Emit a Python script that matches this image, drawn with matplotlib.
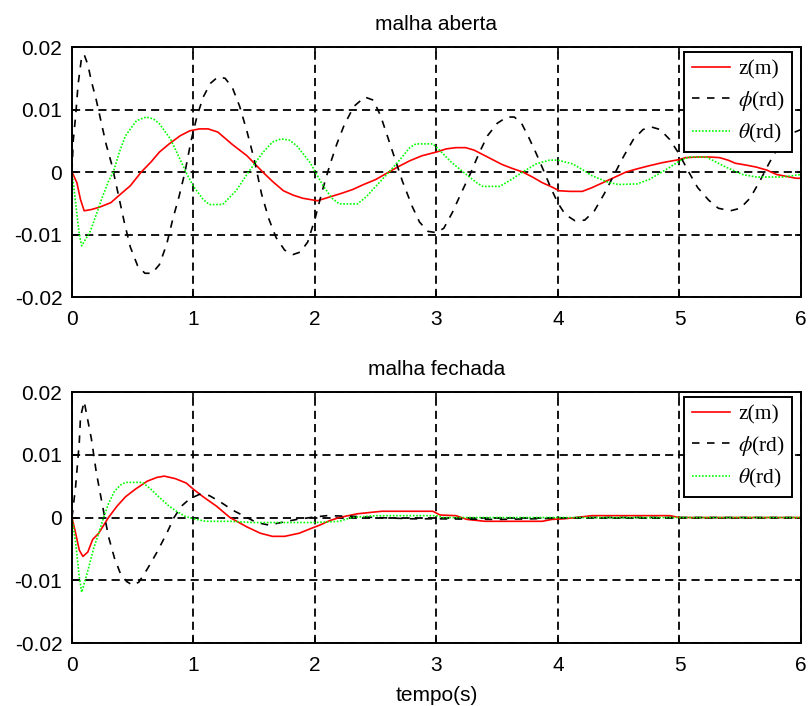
import matplotlib
matplotlib.use('Agg')
import matplotlib.pyplot as plt

# malha aberta
t_z_open = [0, 0.04, 0.07, 0.1, 0.16, 0.23, 0.32, 0.39, 0.48, 0.57, 0.65, 0.72, 0.8, 0.89, 0.97, 1.05, 1.12,
            1.2, 1.32, 1.44, 1.5, 1.57, 1.65, 1.74, 1.82, 1.9, 2.02, 2.12, 2.22, 2.31, 2.4, 2.5, 2.59, 2.68,
            2.78, 2.88, 3.0, 3.08, 3.16, 3.24, 3.31, 3.38, 3.46, 3.54, 3.62, 3.71, 3.79, 3.87, 3.95, 4.01,
            4.1, 4.2, 4.28, 4.37, 4.46, 4.56, 4.65, 4.75, 4.86, 5.0, 5.05, 5.15, 5.25, 5.33, 5.4, 5.46,
            5.55, 5.63, 5.72, 5.8, 5.88, 5.96, 6.0]
z_open = [0, -0.0017, -0.0044, -0.0062, -0.006, -0.0056, -0.0049, -0.0037, -0.0022, 0.0, 0.0016, 0.0032,
          0.0045, 0.0058, 0.0066, 0.0069, 0.0069, 0.0064, 0.0044, 0.0026, 0.0014, 0.0, -0.0015, -0.003,
          -0.0037, -0.0042, -0.0046, -0.004, -0.0034, -0.0028, -0.002, -0.0012, -0.0002, 0.0008, 0.0018,
          0.0026, 0.0032, 0.0037, 0.0039, 0.0039, 0.0035, 0.0028, 0.002, 0.0012, 0.0006, 0.0, -0.0008,
          -0.0017, -0.0024, -0.003, -0.0031, -0.0031, -0.0025, -0.0017, -0.0009, 0.0, 0.0005, 0.001,
          0.0015, 0.002, 0.0023, 0.0024, 0.0024, 0.0023, 0.0019, 0.0014, 0.0011, 0.0008, 0.0003, -0.0004,
          -0.0007, -0.001, -0.001]

t_phi_open = [0, 0.01, 0.03, 0.05, 0.08, 0.1, 0.13, 0.16, 0.2, 0.24, 0.28, 0.33, 0.38, 0.43, 0.48, 0.54,
              0.6, 0.66, 0.72, 0.78, 0.83, 0.88, 0.93, 0.98, 1.03, 1.08, 1.14, 1.2, 1.26, 1.32, 1.38, 1.44,
              1.5, 1.56, 1.62, 1.68, 1.75, 1.82, 1.88, 1.94, 2.0, 2.06, 2.12, 2.18, 2.24, 2.32, 2.41, 2.48,
              2.54, 2.6, 2.66, 2.72, 2.8, 2.86, 2.93, 3.0, 3.06, 3.13, 3.2, 3.28, 3.35, 3.42, 3.5, 3.58,
              3.64, 3.7, 3.76, 3.82, 3.88, 3.94, 4.0, 4.06, 4.14, 4.22, 4.3, 4.38, 4.46, 4.54, 4.62, 4.7,
              4.77, 4.84, 4.92, 5.0, 5.07, 5.15, 5.24, 5.32, 5.42, 5.5, 5.58, 5.66, 5.74, 5.82, 5.9, 6.0]
phi_open = [0, 0.005, 0.009, 0.014, 0.0185, 0.0188, 0.0172, 0.0145, 0.0115, 0.008, 0.0045, 0.001, -0.0035,
            -0.008, -0.012, -0.015, -0.0162, -0.0162, -0.0148, -0.0115, -0.0075, -0.004, 0.0, 0.005, 0.009,
            0.012, 0.0142, 0.0152, 0.015, 0.0135, 0.0105, 0.0065, 0.002, -0.0035, -0.0075, -0.0105, -0.0125,
            -0.0132, -0.0128, -0.0112, -0.0075, -0.003, 0.001, 0.0045, 0.0075, 0.0105, 0.012, 0.0115, 0.009,
            0.0055, 0.002, -0.0015, -0.0055, -0.008, -0.0095, -0.0097, -0.009, -0.0065, -0.0035, -0.0002,
            0.003, 0.0058, 0.0078, 0.0088, 0.0088, 0.0078, 0.0055, 0.003, 0.0003, -0.0025, -0.005, -0.0068,
            -0.0078, -0.0077, -0.0062, -0.0035, -0.0005, 0.0025, 0.0052, 0.0068, 0.0072, 0.0068, 0.0052,
            0.0028, 0.0002, -0.0025, -0.0045, -0.0058, -0.0062, -0.0058, -0.0042, -0.0015, 0.0015, 0.0042,
            0.006, 0.0068]

t_theta_open = [0, 0.03, 0.06, 0.08, 0.15, 0.2, 0.25, 0.3, 0.34, 0.39, 0.44, 0.53, 0.61, 0.67, 0.72, 0.81,
                0.89, 0.95, 1.0, 1.08, 1.13, 1.24, 1.35, 1.46, 1.57, 1.65, 1.72, 1.79, 1.85, 1.96, 2.02,
                2.07, 2.14, 2.2, 2.35, 2.42, 2.5, 2.59, 2.7, 2.78, 2.83, 2.97, 3.02, 3.12, 3.22, 3.33, 3.38,
                3.52, 3.6, 3.71, 3.82, 3.93, 4.0, 4.12, 4.2, 4.28, 4.42, 4.5, 4.65, 4.75, 4.89, 5.02, 5.08,
                5.22, 5.3, 5.38, 5.52, 5.63, 5.85, 6.0]
theta_open = [0, -0.005, -0.01, -0.0118, -0.0095, -0.0068, -0.004, -0.0015, 0.0, 0.0032, 0.0058, 0.0082,
              0.0088, 0.0085, 0.0077, 0.0053, 0.002, -0.0005, -0.0023, -0.0044, -0.0052, -0.0052, -0.003,
              0.0002, 0.0031, 0.0048, 0.0053, 0.0051, 0.0042, 0.0015, -0.0006, -0.0023, -0.0042, -0.0051,
              -0.0051, -0.004, -0.0023, -0.0004, 0.002, 0.0039, 0.0045, 0.0045, 0.0036, 0.0016, 0.0,
              -0.0017, -0.0023, -0.0023, -0.0014, 0.0, 0.0013, 0.0019, 0.0019, 0.0013, 0.0004, -0.0006,
              -0.0017, -0.002, -0.0019, -0.0012, 0.0004, 0.002, 0.0024, 0.0024, 0.0016, 0.0008, -0.0004,
              -0.0008, -0.0008, -0.0004]

# malha fechada
t_z_closed = [0, 0.03, 0.06, 0.09, 0.13, 0.17, 0.22, 0.3, 0.37, 0.44, 0.52, 0.62, 0.7, 0.76, 0.85, 0.94,
              1.0, 1.08, 1.19, 1.3, 1.44, 1.55, 1.65, 1.75, 1.87, 1.96, 2.04, 2.12, 2.2, 2.35, 2.55, 2.97,
              3.03, 3.16, 3.25, 3.4, 3.87, 3.95, 4.05, 4.15, 4.28, 4.92, 5.0, 6.0]
z_closed = [0, -0.0025, -0.0052, -0.0062, -0.0055, -0.0035, -0.0025, 0.0, 0.0018, 0.0033, 0.0045, 0.0058,
            0.0064, 0.0066, 0.0062, 0.0055, 0.0045, 0.0033, 0.0018, 0.0, -0.0015, -0.0025, -0.003, -0.003,
            -0.0025, -0.0018, -0.0012, -0.0005, 0.0, 0.0006, 0.001, 0.001, 0.0004, 0.0003, -0.0003,
            -0.0006, -0.0006, -0.0003, -0.0002, 0.0, 0.0003, 0.0003, 0.0, 0.0]

t_phi_closed = [0, 0.03, 0.06, 0.07, 0.1, 0.12, 0.16, 0.2, 0.25, 0.3, 0.35, 0.4, 0.45, 0.5, 0.55, 0.62, 0.7,
                0.78, 0.84, 0.9, 0.97, 1.05, 1.13, 1.22, 1.32, 1.42, 1.52, 1.62, 1.72, 1.85, 2.0, 2.1, 2.3,
                2.5, 2.8, 3.0, 3.5, 3.8, 4.2, 6.0]
phi_closed = [0, 0.005, 0.012, 0.016, 0.0185, 0.0165, 0.0125, 0.0072, 0.002, -0.003, -0.0065, -0.009,
              -0.0102, -0.0108, -0.0103, -0.0082, -0.0055, -0.0025, 0.0, 0.0018, 0.003, 0.0037, 0.0035,
              0.0025, 0.0012, 0.0002, -0.0008, -0.0012, -0.0008, -0.0003, 0.0001, 0.0003, 0.0002, 0.0,
              -0.0002, -0.0002, -0.0003, -0.0002, 0.0, 0.0]

t_theta_closed = [0, 0.03, 0.06, 0.08, 0.13, 0.18, 0.22, 0.26, 0.3, 0.35, 0.4, 0.44, 0.58, 0.65, 0.72, 0.8,
                  0.86, 0.93, 1.0, 1.1, 1.3, 1.5, 2.0, 2.2, 2.3, 2.5, 3.0, 3.05, 6.0]
theta_closed = [0, -0.004, -0.0095, -0.0119, -0.0085, -0.0048, -0.0025, 0.0, 0.0022, 0.0042, 0.0052,
                0.0056, 0.0056, 0.0045, 0.0032, 0.0018, 0.001, 0.0002, -0.0002, -0.0006, -0.0006, -0.0008,
                -0.0008, -0.0006, 0.0, 0.0003, 0.0003, 0.0, 0.0]

titles = ['malha aberta', 'malha fechada']
labels = ['z(m)', r'$\phi$(rd)', r'$\theta$(rd)']
yticks = [-0.02, -0.01, 0, 0.01, 0.02]
yticklabels = ['-0.02', '-0.01', '0', '0.01', '0.02']
xticks = [0, 1, 2, 3, 4, 5, 6]

plt.rcParams.update({'font.family': 'Liberation Sans', 'font.size': 15, 'mathtext.fontset': 'stix'})

fig = plt.figure(figsize=(8.09, 7.06), dpi=100)
ax1 = fig.add_axes([0.0890, 0.5793, 0.9011, 0.3541])
ax2 = fig.add_axes([0.0890, 0.0892, 0.9011, 0.3555])

series = [
    ((t_z_open, z_open), (t_phi_open, phi_open), (t_theta_open, theta_open)),
    ((t_z_closed, z_closed), (t_phi_closed, phi_closed), (t_theta_closed, theta_closed)),
]

for ax, title, data in zip([ax1, ax2], titles, series):
    (tz, z), (tp, p), (tt, th) = data
    ax.plot(tz, z, color='red', linewidth=1.2, label=labels[0])
    ax.plot(tp, p, color='black', linewidth=1.2, linestyle=(0, (4.5, 4.5)), label=labels[1])
    ax.plot(tt, th, color=(0, 1, 0), linewidth=1.2, linestyle=(0, (1, 1)), label=labels[2])
    ax.set_xlim(0, 6)
    ax.set_ylim(-0.02, 0.02)
    ax.set_xticks(xticks)
    ax.set_yticks(yticks)
    ax.set_yticklabels(yticklabels)
    ax.grid(True, color='black', linewidth=1.3, linestyle=(0, (4.5, 2.8)))
    ax.tick_params(direction='in', length=4, width=1.2, top=True, right=True, labelsize=15)
    ax.tick_params(axis='x', pad=9)
    ax.tick_params(axis='y', pad=7)
    for s in ax.spines.values():
        s.set_linewidth(1.4)
    ax.set_title(title, fontsize=15, pad=12)
    leg = ax.legend(loc='upper right', bbox_to_anchor=(0.988, 0.98), borderaxespad=0,
                    prop={'family': 'Liberation Serif', 'size': 15.5}, fancybox=False,
                    edgecolor='black', framealpha=1, handlelength=1.8, handletextpad=0.35,
                    labelspacing=0.42, borderpad=0.35)
    leg.get_frame().set_linewidth(1.4)

ax2.set_xlabel('tempo(s)', fontsize=15, labelpad=8)

fig.savefig('out.png', dpi=100)
